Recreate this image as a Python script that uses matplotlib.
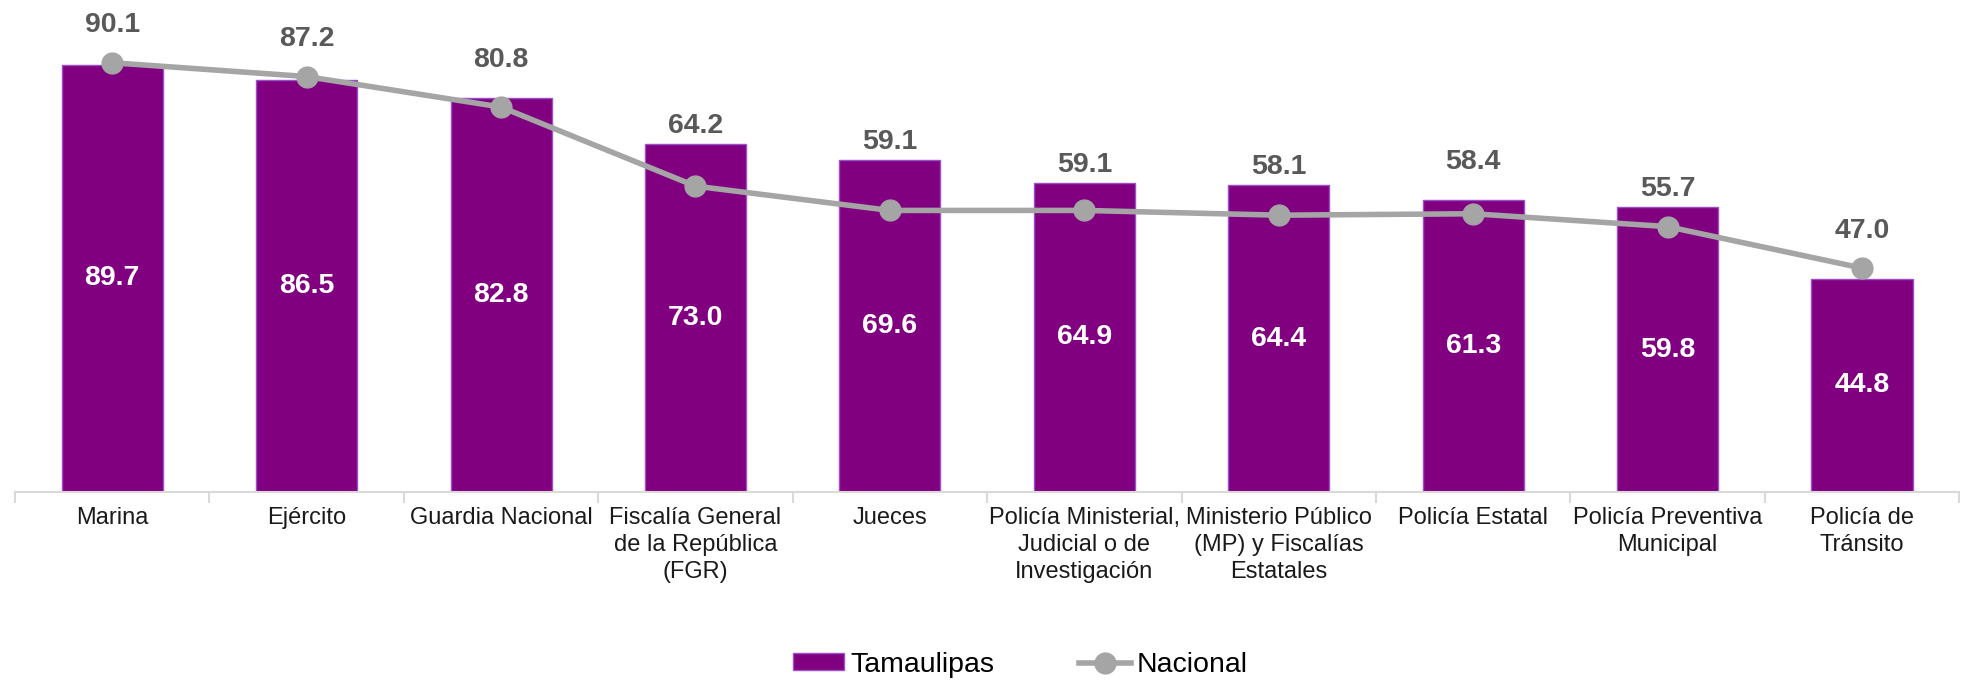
import matplotlib.pyplot as plt
import numpy as np

plt.rcParams['font.family'] = ['Liberation Sans', 'DejaVu Sans']

categorias = ['Marina', 'Ejército', 'Guardia Nacional', 'Fiscalía General\nde la República\n(FGR)',
              'Jueces', 'Policía Ministerial,\nJudicial o de\nInvestigación',
              'Ministerio Público\n(MP) y Fiscalías\nEstatales', 'Policía Estatal',
              'Policía Preventiva\nMunicipal', 'Policía de\nTránsito']
tamaulipas = [89.7, 86.5, 82.8, 73.0, 69.6, 64.9, 64.4, 61.3, 59.8, 44.8]
nacional = [90.1, 87.2, 80.8, 64.2, 59.1, 59.1, 58.1, 58.4, 55.7, 47.0]

fig = plt.figure(figsize=(19.75, 6.82), dpi=100)
ax = fig.add_axes([0.0076, 0.2786, 0.9844, 0.686])
x = np.arange(len(categorias))

ax.bar(x, tamaulipas, width=0.52, color='#800080', edgecolor='#9a50c8', linewidth=1, label='Tamaulipas', zorder=2)
ax.plot(x, nacional, color='#a5a5a5', lw=4, marker='o', markersize=15, label='Nacional', zorder=3)

# etiquetas de las barras (centro) y de la linea (arriba)
for i in range(len(x)):
    ax.text(x[i], tamaulipas[i] / 2, f'{tamaulipas[i]:.1f}', ha='center', va='center',
            color='white', fontsize=20.5, fontweight='bold', zorder=4)
    top = max(tamaulipas[i], nacional[i])
    off = 27 if nacional[i] > tamaulipas[i] - 3 else 13
    ax.annotate(f'{nacional[i]:.1f}', (x[i], top), xytext=(0, off), textcoords='offset points',
                ha='center', va='center', color='#595959', fontsize=20.5, fontweight='bold',
                annotation_clip=False, zorder=4)

ax.set_xlim(-0.5, len(x) - 0.5)
ax.set_ylim(0, 98.2)
for s in ['top', 'right', 'left']:
    ax.spines[s].set_visible(False)
ax.spines['bottom'].set_color('#d9d9d9')
ax.spines['bottom'].set_linewidth(1.5)
ax.set_yticks([])
ax.set_xticks(x)
ax.set_xticklabels(categorias, fontsize=17, color='#1a1a1a', linespacing=1.3)
ax.tick_params(axis='x', which='major', length=0, pad=11)
ax.set_xticks(np.arange(-0.5, len(x)), minor=True)
ax.tick_params(axis='x', which='minor', length=8, width=1.5, color='#d9d9d9')

h, l = ax.get_legend_handles_labels()
orden = [l.index('Tamaulipas'), l.index('Nacional')]
fig.legend([h[k] for k in orden], [l[k] for k in orden], loc='center', bbox_to_anchor=(0.5165, 0.025),
           ncol=2, frameon=False, fontsize=20.5, columnspacing=3.0, handlelength=1.8,
           handleheight=0.55, handletextpad=0.2)

fig.savefig('out.png', dpi=100)
